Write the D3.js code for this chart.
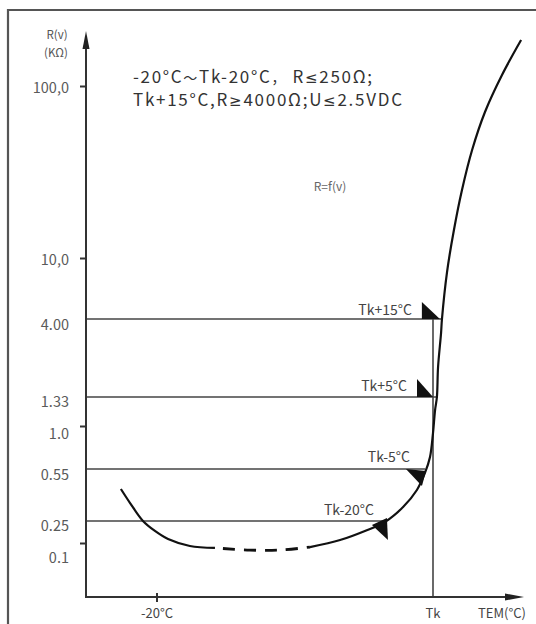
<!DOCTYPE html>
<html>
<head>
<meta charset="utf-8">
<script src="https://cdn.jsdelivr.net/npm/d3@7/dist/d3.min.js"></script>
<style>
  html, body { margin: 0; padding: 0; background: #fff; }
  svg { display: block; }
  text { font-family: "Noto Sans CJK SC", "Noto Sans", sans-serif; }
</style>
</head>
<body>
<svg id="chart" width="536" height="624"></svg>
<script>
// ---------- data (schematic: Tk taken as 100 on the temperature axis) ----------
const TK = 100;
const yTickValues = [100, 10, 4, 1.33, 1, 0.55, 0.25, 0.1];
const yTickLabels = ["100,0", "10,0", "4.00", "1.33", "1.0", "0.55", "0.25", "0.1"];
const refValues = [4, 1.33, 0.55, 0.25];           // horizontal reference levels (kΩ)
const refEndT = [103.9, 101.7, 96.5, 79.1];         // where each level meets the curve
const refLabels = ["Tk+15°C", "Tk+5°C", "Tk-5°C", "Tk-20°C"];
const xTickValues = [-20, TK];
const xTickLabels = ["-20°C", "Tk"];

// curve R = f(v): left solid part, dashed middle, right solid part
const leftT = [-35.7, -31.7, -26.1, -20.9, -15.2, -5.7, 5.2];
const leftR = [0.406, 0.328, 0.25, 0.165, 0.118, 0.088, 0.081];
const midT = [5.2, 20.4, 33.5, 46.5];
const midR = [0.081, 0.074, 0.074, 0.084];
const rightT = [46.5, 59.6, 70.4, 79.1, 87.0, 93.0, 96.5, 98.7, 100, 100.9, 101.7, 102.2, 103.5, 103.9, 106.1, 109.1, 112.6, 117.0, 122.6, 130.0, 138.3];
const rightR = [0.084, 0.113, 0.165, 0.240, 0.309, 0.400, 0.518, 0.650, 0.907, 1.17, 1.33, 2.03, 3.28, 4.0, 8.10, 14.55, 24.85, 42.45, 70.6, 115.9, 185];

// ---------- layout ----------
const svg = d3.select("#chart");
const axisX = 86, axisBottom = 597;

const x = d3.scaleLinear().domain([-20, TK]).range([157, 433]);
// schematic (non-uniform) log axis, piecewise
const y = d3.scaleLog()
  .domain([0.01, 0.1, 0.25, 0.55, 1, 1.33, 4, 10, 100])
  .range([597, 543, 521, 469, 426, 397, 319, 258, 86]);

// outer frame
svg.append("path")
  .attr("d", "M8,630 L8,10 L540,10")
  .attr("fill", "none").attr("stroke", "#555").attr("stroke-width", 2.2);

// horizontal reference lines
refValues.forEach((v, i) => {
  svg.append("line")
    .attr("x1", axisX).attr("x2", x(refEndT[i]))
    .attr("y1", y(v)).attr("y2", y(v))
    .attr("stroke", "#444").attr("stroke-width", 1.6);
});
// vertical line at Tk
svg.append("line")
  .attr("x1", x(TK)).attr("x2", x(TK))
  .attr("y1", axisBottom).attr("y2", y(4))
  .attr("stroke", "#444").attr("stroke-width", 1.6);

// y axis
const yAxis = d3.axisLeft(y).tickValues(yTickValues)
  .tickFormat((d, i) => yTickLabels[i]).tickSize(6).tickPadding(10);
const gy = svg.append("g").attr("transform", `translate(${axisX},0)`).call(yAxis);
gy.select(".domain").remove();
gy.selectAll(".tick line").attr("stroke", "#333").attr("stroke-width", 2)
  .filter(d => refValues.includes(d)).remove();
const labelShift = {100: 1, 10: 1, 4: 5, 1.33: 4, 1: 7, 0.55: 5, 0.25: 4, 0.1: 14};
gy.selectAll(".tick text")
  .attr("fill", "#5a5a5a").attr("font-size", 14.5)
  .attr("font-family", "'Noto Sans CJK SC', sans-serif")
  .attr("x", -17)
  .attr("dy", d => (labelShift[d] + 5) + "px");

svg.append("line").attr("x1", axisX).attr("x2", axisX)
  .attr("y1", axisBottom).attr("y2", 44)
  .attr("stroke", "#333").attr("stroke-width", 2);
svg.append("path").attr("d", `M${axisX},31 L${axisX - 3.5},49 L${axisX + 3.5},49 Z`).attr("fill", "#222");

// x axis
svg.append("line").attr("x1", axisX - 1).attr("x2", 510)
  .attr("y1", axisBottom).attr("y2", axisBottom)
  .attr("stroke", "#333").attr("stroke-width", 2);
svg.append("path").attr("d", `M524,${axisBottom} L505,${axisBottom - 3.5} L505,${axisBottom + 3.5} Z`).attr("fill", "#222");
svg.append("line").attr("x1", x(-20)).attr("x2", x(-20))
  .attr("y1", axisBottom - 4).attr("y2", axisBottom + 5)
  .attr("stroke", "#333").attr("stroke-width", 2);
xTickValues.forEach((v, i) => {
  svg.append("text").attr("x", x(v)).attr("y", 618)
    .attr("text-anchor", "middle").attr("font-size", 13).attr("fill", "#444")
    .text(xTickLabels[i]);
});
svg.append("text").attr("x", 502).attr("y", 618)
  .attr("text-anchor", "middle").attr("font-size", 13).attr("fill", "#444")
  .text("TEM(°C)");

// axis title
svg.append("text").attr("x", 57).attr("y", 39).attr("text-anchor", "middle")
  .attr("font-size", 11.5).attr("fill", "#555").text("R(v)");
svg.append("text").attr("x", 56).attr("y", 57).attr("text-anchor", "middle")
  .attr("font-size", 11.5).attr("fill", "#555").text("(KΩ)");

// curve
const line = d3.line().x(d => x(d[0])).y(d => y(d[1])).curve(d3.curveCatmullRom.alpha(0.5));
const zip = (a, b) => a.map((v, i) => [v, b[i]]);
svg.append("path").attr("d", line(zip(leftT, leftR)))
  .attr("fill", "none").attr("stroke", "#111").attr("stroke-width", 2.2);
svg.append("path").attr("d", line(zip(midT, midR)))
  .attr("fill", "none").attr("stroke", "#111").attr("stroke-width", 2.8)
  .attr("stroke-dasharray", "12,9").attr("stroke-dashoffset", -8);
svg.append("path").attr("d", line(zip(rightT, rightR)))
  .attr("fill", "none").attr("stroke", "#111").attr("stroke-width", 2.2);

// arrow markers and labels at the reference levels
const markerAnchorT = [103.0, 100.0, 96.5, 79.1];
const markerShapes = [
  [[0, 0], [-18, 0], [-18, -17]],
  [[0, 0], [-16, 0], [-16, -18]],
  [[-19, 0], [1, 2], [-3, 17]],
  [[-13, 4], [2, -3], [3, 19]]
];
const labelOffsets = [[-28, -9], [-26, -11], [-15, -12], [-11, -11]];
refValues.forEach((v, i) => {
  const ax = x(markerAnchorT[i]), ay = y(v);
  svg.append("path")
    .attr("d", "M" + markerShapes[i].map(p => [ax + p[0], ay + p[1]].join(",")).join("L") + "Z")
    .attr("fill", "#111");
  svg.append("text").attr("x", ax + labelOffsets[i][0]).attr("y", ay + labelOffsets[i][1])
    .attr("dy", "0.35em").attr("text-anchor", "end")
    .attr("font-size", 14).attr("fill", "#444").text(refLabels[i]);
});

// annotation lines
const noteLines = [
  ["-20°C", "～", "Tk-20°C", "，", " R", "≤", "250Ω;"],
  ["Tk+15°C,R", "≥", "4000Ω;U", "≤", "2.5VDC"]
];
const noteBase = [83, 106], noteWidth = [239, 269];
noteLines.forEach((parts, li) => {
  const t = svg.append("text").attr("x", 133).attr("y", noteBase[li])
    .attr("font-family", "Roboto, sans-serif").attr("font-size", 17).attr("fill", "#333")
    .attr("textLength", noteWidth[li]).attr("lengthAdjust", "spacing");
  parts.forEach(p => {
    const s = t.append("tspan").text(p);
    if (p === "≤" || p === "≥") s.attr("font-family", "'DejaVu Sans', sans-serif").attr("font-size", 15);
    if (p === "～" || p === "，") s.attr("font-family", "'Noto Sans CJK SC', sans-serif").attr("font-size", 14);
  });
});
svg.append("text").attr("x", 330).attr("y", 191).attr("text-anchor", "middle")
  .attr("font-size", 12).attr("fill", "#666").text("R=f(v)");
</script>
</body>
</html>
